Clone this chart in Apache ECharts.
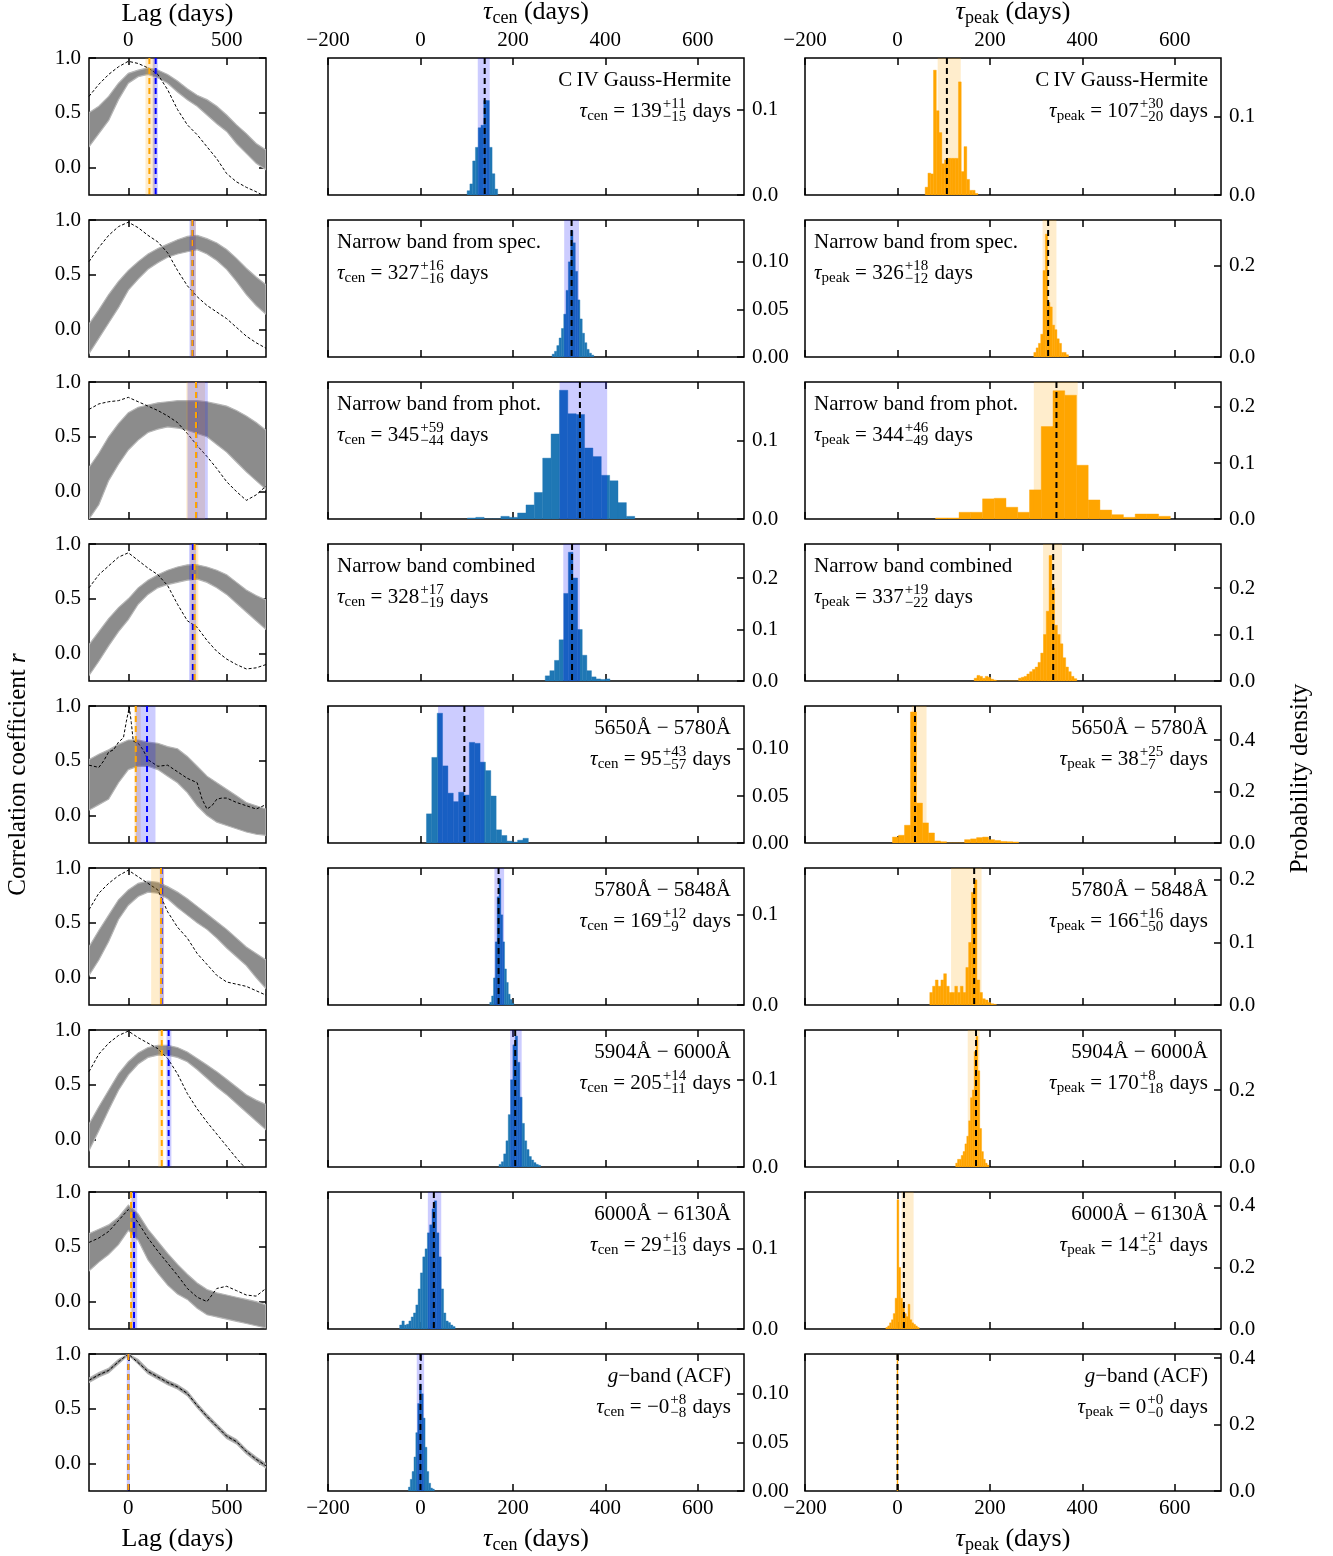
<!DOCTYPE html>
<html>
<head>
<meta charset="utf-8">
<script src="https://cdn.jsdelivr.net/npm/echarts@6/dist/echarts.min.js"></script>
<style>
  html, body { margin: 0; padding: 0; background: #fff; }
  #chart { width: 1333px; height: 1556px; }
</style>
</head>
<body>
<div id="chart"></div>
<script>
// ---------------- data ----------------
const rowNames = [
  [{ text: 'C\u2009IV Gauss-Hermite' }],
  [{ text: 'Narrow band from spec.' }],
  [{ text: 'Narrow band from phot.' }],
  [{ text: 'Narrow band combined' }],
  [{ text: '5650Å − 5780Å' }],
  [{ text: '5780Å − 5848Å' }],
  [{ text: '5904Å − 6000Å' }],
  [{ text: '6000Å − 6130Å' }],
  [{ text: 'g', italic: true }, { text: '−band (ACF)' }]
];

// centroid lags and their asymmetric errors (days)
const tauCen   = [139, 327, 345, 328, 95, 169, 205, 29, -0];
const tauCenHi = [11, 16, 59, 17, 43, 12, 14, 16, 8];
const tauCenLo = [15, 16, 44, 19, 57, 9, 11, 13, 8];
// peak lags and their asymmetric errors (days)
const tauPeak   = [107, 326, 344, 337, 38, 166, 170, 14, 0];
const tauPeakHi = [30, 18, 46, 19, 25, 16, 8, 21, 0];
const tauPeakLo = [20, 12, 49, 22, 7, 50, 18, 5, 0];

// lag grid of the CCF realisation envelopes
const lagGrid = [-200, -150, -100, -50, 0, 50, 100, 150, 200, 250, 300, 350, 400, 450, 500, 550, 600, 650, 700];
const bundleUpper = [
  [0.50, 0.56, 0.65, 0.77, 0.86, 0.89, 0.91, 0.89, 0.85, 0.79, 0.72, 0.66, 0.62, 0.56, 0.48, 0.39, 0.31, 0.22, 0.16],
  [0.05, 0.18, 0.32, 0.44, 0.54, 0.62, 0.69, 0.74, 0.78, 0.82, 0.85, 0.86, 0.83, 0.79, 0.73, 0.65, 0.56, 0.48, 0.41],
  [0.22, 0.35, 0.50, 0.62, 0.72, 0.77, 0.79, 0.81, 0.82, 0.83, 0.83, 0.83, 0.82, 0.80, 0.78, 0.74, 0.69, 0.63, 0.56],
  [0.08, 0.20, 0.32, 0.42, 0.50, 0.60, 0.67, 0.72, 0.76, 0.79, 0.81, 0.81, 0.79, 0.76, 0.72, 0.65, 0.58, 0.53, 0.49],
  [0.51, 0.56, 0.60, 0.65, 0.69, 0.69, 0.67, 0.66, 0.63, 0.61, 0.54, 0.45, 0.36, 0.30, 0.24, 0.18, 0.12, 0.09, 0.06],
  [0.28, 0.43, 0.57, 0.71, 0.80, 0.86, 0.88, 0.87, 0.83, 0.78, 0.72, 0.65, 0.58, 0.51, 0.44, 0.36, 0.28, 0.22, 0.16],
  [0.14, 0.30, 0.45, 0.60, 0.71, 0.79, 0.84, 0.86, 0.86, 0.84, 0.80, 0.74, 0.68, 0.62, 0.55, 0.48, 0.41, 0.36, 0.32],
  [0.62, 0.66, 0.70, 0.77, 0.88, 0.80, 0.66, 0.55, 0.44, 0.34, 0.25, 0.17, 0.11, 0.08, 0.06, 0.04, 0.02, 0.00, -0.03],
  [0.78, 0.83, 0.87, 0.95, 1.00, 0.95, 0.86, 0.81, 0.76, 0.72, 0.66, 0.55, 0.45, 0.36, 0.27, 0.22, 0.13, 0.06, 0.00]
];
const bundleLower = [
  [0.19, 0.31, 0.43, 0.62, 0.77, 0.83, 0.85, 0.82, 0.77, 0.69, 0.62, 0.56, 0.48, 0.40, 0.33, 0.22, 0.13, 0.04, -0.02],
  [-0.22, -0.08, 0.06, 0.20, 0.36, 0.46, 0.55, 0.61, 0.66, 0.69, 0.71, 0.73, 0.69, 0.63, 0.55, 0.44, 0.32, 0.22, 0.14],
  [-0.25, -0.12, 0.10, 0.25, 0.38, 0.47, 0.54, 0.57, 0.59, 0.58, 0.56, 0.53, 0.50, 0.43, 0.36, 0.27, 0.18, 0.10, 0.02],
  [-0.20, -0.07, 0.07, 0.20, 0.31, 0.45, 0.54, 0.60, 0.63, 0.65, 0.67, 0.68, 0.65, 0.60, 0.54, 0.46, 0.38, 0.30, 0.22],
  [0.05, 0.10, 0.15, 0.30, 0.42, 0.45, 0.45, 0.42, 0.36, 0.30, 0.21, 0.09, 0.00, -0.06, -0.09, -0.12, -0.15, -0.17, -0.18],
  [0.02, 0.16, 0.33, 0.53, 0.66, 0.74, 0.78, 0.77, 0.72, 0.64, 0.57, 0.50, 0.44, 0.36, 0.27, 0.19, 0.11, 0.00, -0.10],
  [-0.10, 0.08, 0.27, 0.45, 0.59, 0.69, 0.75, 0.77, 0.77, 0.75, 0.71, 0.64, 0.56, 0.48, 0.41, 0.33, 0.25, 0.17, 0.09],
  [0.28, 0.36, 0.43, 0.52, 0.65, 0.56, 0.38, 0.26, 0.15, 0.07, 0.02, -0.06, -0.12, -0.14, -0.16, -0.18, -0.20, -0.22, -0.24],
  [0.74, 0.79, 0.83, 0.91, 0.99, 0.91, 0.82, 0.77, 0.72, 0.68, 0.62, 0.51, 0.41, 0.32, 0.23, 0.18, 0.09, 0.02, -0.04]
];
// observed (non-interpolated) correlation function, [lag, r]
const acfCurves = [
  [[-200,0.65],[-150,0.76],[-100,0.85],[-50,0.92],[0,0.97],[50,0.95],[100,0.91],[150,0.85],[200,0.71],[250,0.53],[300,0.39],[350,0.30],[400,0.19],[450,0.08],[500,-0.055],[550,-0.13],[600,-0.18],[650,-0.22],[700,-0.27]],
  [[-200,0.62],[-150,0.75],[-100,0.86],[-50,0.94],[0,0.98],[50,0.93],[100,0.86],[150,0.80],[200,0.70],[250,0.54],[300,0.40],[350,0.30],[400,0.22],[450,0.16],[500,0.10],[550,0.02],[600,-0.06],[650,-0.12],[700,-0.17]],
  [[-200,0.75],[-150,0.80],[-100,0.82],[-50,0.83],[0,0.86],[50,0.82],[100,0.78],[150,0.74],[200,0.69],[250,0.63],[300,0.53],[350,0.42],[400,0.32],[450,0.21],[500,0.09],[550,0.00],[600,-0.08],[650,-0.03],[700,0.05]],
  [[-200,0.60],[-150,0.72],[-100,0.80],[-50,0.88],[0,0.92],[50,0.85],[100,0.78],[150,0.72],[200,0.62],[250,0.45],[300,0.30],[350,0.24],[400,0.12],[450,0.02],[500,-0.05],[550,-0.10],[600,-0.14],[650,-0.13],[700,-0.10]],
  [[-200,0.46],[-175,0.45],[-150,0.44],[-125,0.50],[-100,0.58],[-75,0.60],[-50,0.67],[-25,0.71],[-10,0.86],[5,0.99],[15,0.85],[25,0.68],[50,0.66],[75,0.60],[100,0.51],[150,0.45],[200,0.46],[250,0.40],[300,0.34],[350,0.30],[375,0.15],[400,0.06],[425,0.09],[450,0.15],[475,0.16],[500,0.16],[550,0.12],[600,0.09],[650,0.06],[700,0.10]],
  [[-200,0.62],[-150,0.77],[-100,0.86],[-50,0.93],[0,0.98],[50,0.92],[100,0.86],[150,0.80],[200,0.60],[250,0.46],[300,0.36],[350,0.22],[400,0.12],[450,0.02],[500,-0.04],[550,-0.06],[600,-0.08],[650,-0.12],[700,-0.16]],
  [[-200,0.62],[-150,0.78],[-100,0.88],[-50,0.95],[0,0.99],[50,0.93],[100,0.88],[150,0.83],[200,0.74],[250,0.60],[300,0.42],[350,0.28],[400,0.16],[450,0.05],[500,-0.06],[550,-0.17],[600,-0.27]],
  [[-200,0.54],[-150,0.58],[-100,0.64],[-50,0.74],[0,0.84],[25,0.78],[50,0.72],[100,0.58],[150,0.46],[200,0.35],[250,0.24],[300,0.12],[350,0.04],[400,0.00],[450,0.12],[500,0.14],[550,0.10],[600,0.06],[650,0.05],[700,0.12]],
  [[-200,0.76],[-150,0.81],[-100,0.85],[-50,0.93],[0,1.00],[50,0.92],[100,0.84],[150,0.79],[200,0.74],[250,0.70],[300,0.64],[350,0.53],[400,0.43],[450,0.34],[500,0.25],[550,0.20],[600,0.11],[650,0.04],[700,-0.02]]
];

// tau_cen histograms: first bin edge, bin width, densities
const cenHistStart = [101, 285, 101.6, 270, 13, 150, 170, -45, -26];
const cenHistWidth = [6, 5, 18.1, 10, 11.6, 4, 5, 5, 4];
const cenHistDensity = [
  [0.005, 0.013, 0.040, 0.056, 0.079, 0.082, 0.111, 0.111, 0.056, 0.025, 0.007],
  [0.003, 0.006, 0.012, 0.020, 0.030, 0.045, 0.070, 0.100, 0.133, 0.120, 0.090, 0.060, 0.040, 0.025, 0.015, 0.008, 0.004, 0.002],
  [0.0013, 0.0021, 0, 0, 0.0034, 0.0021, 0.0077, 0.018, 0.034, 0.078, 0.109, 0.165, 0.135, 0.134, 0.091, 0.080, 0.056, 0.049, 0.021, 0.0034],
  [0.010, 0.020, 0.040, 0.080, 0.170, 0.250, 0.200, 0.100, 0.050, 0.020, 0.008, 0.004, 0.003, 0.004],
  [0.031, 0.091, 0.138, 0.082, 0.053, 0.044, 0.054, 0.051, 0.107, 0.106, 0.086, 0.077, 0.050, 0.014, 0.008, 0.002, 0.001, 0.003, 0.005],
  [0.003, 0.010, 0.030, 0.070, 0.120, 0.140, 0.100, 0.070, 0.040, 0.025, 0.012, 0.006, 0.002],
  [0.003, 0.006, 0.015, 0.030, 0.060, 0.100, 0.140, 0.150, 0.120, 0.080, 0.050, 0.030, 0.020, 0.012, 0.008, 0.005, 0.003, 0.002],
  [0.005, 0.010, 0.005, 0.006, 0.010, 0.015, 0.020, 0.030, 0.050, 0.070, 0.090, 0.100, 0.120, 0.130, 0.150, 0.160, 0.120, 0.090, 0.050, 0.020, 0.010, 0.008, 0.005, 0.003],
  [0.004, 0.012, 0.020, 0.035, 0.060, 0.090, 0.110, 0.100, 0.075, 0.045, 0.020, 0.008, 0.003, 0.002]
];
// tau_peak histograms: first bin edge, bin width, densities
const peakHistStart = [60, 295, 82.5, 166, -10.8, 70, 126, -25, -1];
const peakHistWidth = [6, 5, 25.4, 6, 13, 6, 4, 4, 2];
const peakHistDensity = [
  [0.010, 0.028, 0.027, 0.160, 0.108, 0.080, 0.040, 0.045, 0.047, 0.047, 0.047, 0.047, 0.145, 0.030, 0.062, 0.020, 0.006, 0.006, 0.002],
  [0.010, 0.020, 0.030, 0.050, 0.190, 0.270, 0.120, 0.110, 0.070, 0.060, 0.040, 0.030, 0.010, 0.010, 0.005],
  [0.0018, 0.0018, 0.012, 0.012, 0.036, 0.037, 0.021, 0.012, 0.052, 0.165, 0.229, 0.221, 0.096, 0.034, 0.016, 0.0077, 0.003, 0.0089, 0.0089, 0.0048],
  [0.006, 0.012, 0.010, 0.006, 0.010, 0.008, 0.004, 0.002, 0, 0, 0, 0, 0, 0, 0, 0,
   0.006, 0.008, 0.010, 0.015, 0.020, 0.025, 0.030, 0.040, 0.060, 0.100, 0.150, 0.270, 0.200, 0.120, 0.100, 0.080, 0.050, 0.030, 0.020, 0.010, 0.005],
  [0.023, 0.030, 0.069, 0.509, 0.155, 0.078, 0.039, 0.008, 0.005, 0, 0, 0, 0.013, 0.016, 0.021, 0.023, 0.013, 0.010, 0.006, 0.005, 0.004],
  [0.020, 0.030, 0.040, 0.030, 0.040, 0.050, 0.030, 0.020, 0.020, 0.030, 0.020, 0.030, 0.020, 0.060, 0.100, 0.180, 0.200, 0.040, 0.020, 0.010, 0.008, 0.004, 0.002, 0.001],
  [0.010, 0.020, 0.020, 0.030, 0.040, 0.060, 0.080, 0.120, 0.180, 0.200, 0.300, 0.340, 0.250, 0.100, 0.040, 0.020, 0.010, 0.005],
  [0.005, 0.010, 0.020, 0.030, 0.050, 0.100, 0.420, 0.200, 0.100, 0.080, 0.050, 0.040, 0.080, 0.030, 0.020, 0.015, 0.010, 0.005],
  [0.5]
];

// density-axis extents and tick labels
const cenYMax  = [0.161, 0.144, 0.1756, 0.266, 0.1457, 0.152, 0.157, 0.171, 0.141];
const peakYMax = [0.1756, 0.301, 0.2446, 0.2946, 0.532, 0.219, 0.356, 0.445, 0.412];
const cenTicks  = [[0, 0.1], [0, 0.05, 0.1], [0, 0.1], [0, 0.1, 0.2], [0, 0.05, 0.1], [0, 0.1], [0, 0.1], [0, 0.1], [0, 0.05, 0.1]];
const cenTickDecimals = [1, 2, 1, 1, 2, 1, 1, 1, 2];
const peakTicks = [[0, 0.1], [0, 0.2], [0, 0.1, 0.2], [0, 0.1, 0.2], [0, 0.2, 0.4], [0, 0.1, 0.2], [0, 0.2], [0, 0.2, 0.4], [0, 0.2, 0.4]];
const peakTickDecimals = [1, 1, 1, 1, 1, 1, 1, 1, 1];
const lagTicks = [0, 500];
const ccfTicks = [0, 0.5, 1.0];
const tauTicks = [-200, 0, 200, 400, 600];

// ---------------- layout & style ----------------
const FONT_FAMILY = "'Liberation Serif', 'Times New Roman', serif";
const ROW_TOP0 = 58, ROW_STEP = 162, PANEL_H = 137;
const COL_LAG = { left: 89, width: 177 };
const COL_CEN = { left: 328, width: 416 };
const COL_PEAK = { left: 805, width: 416 };
const labelSide = ['right', 'left', 'left', 'left', 'right', 'right', 'right', 'right', 'right'];
const TICK_FS = 21, NOTE_FS = 21, SCRIPT_FS = 15, TITLE_FS = 26, TITLE_SCRIPT_FS = 18;
const BLUE_BAR = '#1f77b4', ORANGE_BAR = '#ffa500';
const BLUE_BAND = 'rgba(0,0,255,0.2)', ORANGE_BAND = 'rgba(255,165,0,0.2)';
const CCF_MIN = -0.25, CCF_MAX = 1.0, LAG_MIN = -200, LAG_MAX = 700;

const grid = [], xAxis = [], yAxis = [], series = [], graphic = [];

const fmtNum = (v, d) => (v < 0 ? '\u2212' : '') + Math.abs(v).toFixed(d);
const fmtInt = v => (v < 0 || Object.is(v, -0) ? '\u2212' : '') + Math.abs(v);

function addGrid(left, top, width, height) {
  grid.push({ left, top, width, height, show: true, borderColor: '#000', borderWidth: 1.5,
              backgroundColor: 'transparent', containLabel: false });
  return grid.length - 1;
}
function addX(gi, position, ticks, showLabel) {
  xAxis.push({
    type: 'value', gridIndex: gi, position, min: LAG_MIN, max: LAG_MAX,
    axisLine: { show: false, onZero: false }, splitLine: { show: false },
    axisTick: { show: true, inside: true, length: 7, lineStyle: { color: '#000', width: 1.5 }, customValues: ticks },
    axisLabel: { show: showLabel, customValues: ticks, formatter: v => fmtNum(v, 0),
                 fontFamily: FONT_FAMILY, fontSize: TICK_FS, color: '#000', margin: 7 }
  });
  return xAxis.length - 1;
}
function addY(gi, position, min, max, ticks, showLabel, decimals) {
  yAxis.push({
    type: 'value', gridIndex: gi, position, min, max,
    axisLine: { show: false, onZero: false }, splitLine: { show: false },
    axisTick: { show: true, inside: true, length: 7, lineStyle: { color: '#000', width: 1.5 }, customValues: ticks },
    axisLabel: { show: showLabel, customValues: ticks, formatter: v => fmtNum(v, decimals),
                 fontFamily: FONT_FAMILY, fontSize: TICK_FS, color: '#000', margin: 8 }
  });
  return yAxis.length - 1;
}

// vertical shaded interval spanning the full panel height
function vband(xi, yi, x0, x1, y0, y1, color, z) {
  return {
    type: 'custom', xAxisIndex: xi, yAxisIndex: yi, z, silent: true, clip: true,
    data: [[x0, x1, y0, y1]], encode: { x: [0, 1], y: [2, 3] },
    renderItem(params, api) {
      const a = api.coord([api.value(0), api.value(3)]);
      const b = api.coord([api.value(1), api.value(2)]);
      return { type: 'rect', shape: { x: a[0], y: a[1], width: b[0] - a[0], height: b[1] - a[1] }, style: { fill: color } };
    }
  };
}
// vertical dashed marker line
function vline(xi, yi, x, y0, y1, color, width, dash, z) {
  return {
    type: 'custom', xAxisIndex: xi, yAxisIndex: yi, z, silent: true, clip: true,
    data: [[x, y0, y1]], encode: { x: 0, y: [1, 2] },
    renderItem(params, api) {
      const a = api.coord([api.value(0), api.value(2)]);
      const b = api.coord([api.value(0), api.value(1)]);
      return { type: 'line', shape: { x1: a[0], y1: a[1], x2: b[0], y2: b[1] },
               style: { stroke: color, lineWidth: width, lineDash: dash } };
    }
  };
}
// histogram bars from bin start, bin width and densities
function histogram(xi, yi, start, width, dens, color) {
  const data = dens.map((d, i) => [start + i * width, start + (i + 1) * width, d]);
  return {
    type: 'custom', xAxisIndex: xi, yAxisIndex: yi, z: 2, silent: true, clip: true,
    data, encode: { x: [0, 1], y: 2 },
    renderItem(params, api) {
      const a = api.coord([api.value(0), api.value(2)]);
      const b = api.coord([api.value(1), 0]);
      return { type: 'rect', shape: { x: a[0], y: a[1], width: b[0] - a[0], height: b[1] - a[1] },
               style: { fill: color, stroke: color, lineWidth: 0.4 } };
    }
  };
}
// envelope of the CCF realisations
function bundle(xi, yi, lower, upper) {
  return {
    type: 'custom', xAxisIndex: xi, yAxisIndex: yi, z: 2, silent: true, clip: true,
    data: [[0, 0]], encode: { x: 0, y: 1 },
    renderItem(params, api) {
      const pts = [];
      lagGrid.forEach((l, i) => pts.push(api.coord([l, upper[i]])));
      for (let i = lagGrid.length - 1; i >= 0; i--) pts.push(api.coord([lagGrid[i], lower[i]]));
      return { type: 'polygon', shape: { points: pts },
               style: { fill: '#8c8c8c', stroke: '#b5b5b5', lineWidth: 1.2 } };
    }
  };
}

// ---------------- text helpers ----------------
const mctx = document.createElement('canvas').getContext('2d');
const fontStr = (size, italic) => (italic ? 'italic ' : '') + size + 'px ' + FONT_FAMILY;
function textWidth(t, size, italic) { mctx.font = fontStr(size, italic); return mctx.measureText(t).width; }
function txt(t, x, y, size, italic) {
  return { type: 'text', x, y, silent: true, z: 100,
           style: { text: t, font: fontStr(size, italic), fill: '#000',
                    align: 'left', verticalAlign: 'middle', textAlign: 'left', textVerticalAlign: 'middle' } };
}
function composeLine(pieces, x, yc, align) {
  const widths = pieces.map(p => p.stack
    ? Math.max(...p.stack.map(s => textWidth(s, p.size, false))) + 2
    : textWidth(p.text, p.size || NOTE_FS, p.italic));
  const total = widths.reduce((a, b) => a + b, 0);
  let cx = align === 'right' ? x - total : align === 'center' ? x - total / 2 : x;
  const out = [];
  pieces.forEach((p, i) => {
    if (p.stack) {
      out.push(txt(p.stack[0], cx + 1, yc + p.up, p.size, false));
      out.push(txt(p.stack[1], cx + 1, yc + p.down, p.size, false));
    } else {
      out.push(txt(p.text, cx, yc + (p.dy || 0), p.size || NOTE_FS, p.italic));
    }
    cx += widths[i];
  });
  return out;
}
function tauLine(sub, value, hi, lo) {
  return [
    { text: 'τ', italic: true, size: NOTE_FS },
    { text: sub, size: SCRIPT_FS, dy: 5 },
    { text: ' = ' + fmtInt(value), size: NOTE_FS },
    { stack: ['+' + hi, '\u2212' + lo], size: SCRIPT_FS, up: -7, down: 6 },
    { text: ' days', size: NOTE_FS }
  ];
}
function annotate(col, top, side, name, sub, value, hi, lo) {
  const x = side === 'right' ? col.left + col.width - 13 : col.left + 9;
  graphic.push(...composeLine(name.map(p => Object.assign({ size: NOTE_FS }, p)), x, top + 22, side));
  graphic.push(...composeLine(tauLine(sub, value, hi, lo), x, top + 53, side));
}

// ---------------- panels ----------------
for (let r = 0; r < 9; r++) {
  const top = ROW_TOP0 + r * ROW_STEP;

  // correlation functions
  const gL = addGrid(COL_LAG.left, top, COL_LAG.width, PANEL_H);
  const xL = addX(gL, 'bottom', lagTicks, r === 8);
  addX(gL, 'top', lagTicks, r === 0);
  const yL = addY(gL, 'left', CCF_MIN, CCF_MAX, ccfTicks, true, 1);
  addY(gL, 'right', CCF_MIN, CCF_MAX, ccfTicks, false, 1);
  series.push(bundle(xL, yL, bundleLower[r], bundleUpper[r]));
  series.push({ type: 'line', xAxisIndex: xL, yAxisIndex: yL, z: 3, silent: true, clip: true,
                data: acfCurves[r], showSymbol: false, symbol: 'none',
                lineStyle: { color: '#000', width: 1, type: [3, 2] } });
  series.push(vband(xL, yL, tauPeak[r] - tauPeakLo[r], tauPeak[r] + tauPeakHi[r], CCF_MIN, CCF_MAX, ORANGE_BAND, 4));
  series.push(vband(xL, yL, tauCen[r] - tauCenLo[r], tauCen[r] + tauCenHi[r], CCF_MIN, CCF_MAX, BLUE_BAND, 4));
  series.push(vline(xL, yL, tauCen[r], CCF_MIN, CCF_MAX, '#0000ff', 2, [6, 4], 5));
  series.push(vline(xL, yL, tauPeak[r], CCF_MIN, CCF_MAX, '#ffa500', 2, [6, 4], 6));

  // centroid distribution
  const gC = addGrid(COL_CEN.left, top, COL_CEN.width, PANEL_H);
  const xC = addX(gC, 'bottom', tauTicks, r === 8);
  addX(gC, 'top', tauTicks, r === 0);
  const yC = addY(gC, 'right', 0, cenYMax[r], cenTicks[r], true, cenTickDecimals[r]);
  series.push(histogram(xC, yC, cenHistStart[r], cenHistWidth[r], cenHistDensity[r], BLUE_BAR));
  series.push(vband(xC, yC, tauCen[r] - tauCenLo[r], tauCen[r] + tauCenHi[r], 0, cenYMax[r], BLUE_BAND, 3));
  series.push(vline(xC, yC, tauCen[r], 0, cenYMax[r], '#000', 2, [6, 4], 4));
  annotate(COL_CEN, top, labelSide[r], rowNames[r], 'cen', tauCen[r], tauCenHi[r], tauCenLo[r]);

  // peak distribution
  const gP = addGrid(COL_PEAK.left, top, COL_PEAK.width, PANEL_H);
  const xP = addX(gP, 'bottom', tauTicks, r === 8);
  addX(gP, 'top', tauTicks, r === 0);
  const yP = addY(gP, 'right', 0, peakYMax[r], peakTicks[r], true, peakTickDecimals[r]);
  series.push(histogram(xP, yP, peakHistStart[r], peakHistWidth[r], peakHistDensity[r], ORANGE_BAR));
  series.push(vband(xP, yP, tauPeak[r] - tauPeakLo[r], tauPeak[r] + tauPeakHi[r], 0, peakYMax[r], ORANGE_BAND, 3));
  series.push(vline(xP, yP, tauPeak[r], 0, peakYMax[r], '#000', 2, [6, 4], 4));
  annotate(COL_PEAK, top, labelSide[r], rowNames[r], 'peak', tauPeak[r], tauPeakHi[r], tauPeakLo[r]);
}

// ---------------- axis titles ----------------
function axisTitle(col, y, sub) {
  const cx = col.left + col.width / 2;
  const pieces = sub
    ? [{ text: 'τ', italic: true, size: TITLE_FS }, { text: sub, size: TITLE_SCRIPT_FS, dy: 6 }, { text: ' (days)', size: TITLE_FS }]
    : [{ text: 'Lag (days)', size: TITLE_FS }];
  graphic.push(...composeLine(pieces, cx, y, 'center'));
}
const lastBottom = ROW_TOP0 + 8 * ROW_STEP + PANEL_H;
axisTitle(COL_LAG, 14, null);
axisTitle(COL_CEN, 12, 'cen');
axisTitle(COL_PEAK, 12, 'peak');
axisTitle(COL_LAG, lastBottom + 48, null);
axisTitle(COL_CEN, lastBottom + 48, 'cen');
axisTitle(COL_PEAK, lastBottom + 48, 'peak');

const midY = (ROW_TOP0 + lastBottom) / 2;
graphic.push({ type: 'group', x: 18, y: midY, rotation: Math.PI / 2,
  children: composeLine([{ text: 'Correlation coefficient ', size: 25 }, { text: 'r', italic: true, size: 25 }], 0, 0, 'center') });
graphic.push({ type: 'group', x: 1300, y: midY + 4, rotation: Math.PI / 2,
  children: composeLine([{ text: 'Probability density', size: 25 }], 0, 0, 'center') });

const chart = echarts.init(document.getElementById('chart'), null, { renderer: 'canvas' });
chart.setOption({ animation: false, backgroundColor: '#fff', grid, xAxis, yAxis, series, graphic });
</script>
</body>
</html>
